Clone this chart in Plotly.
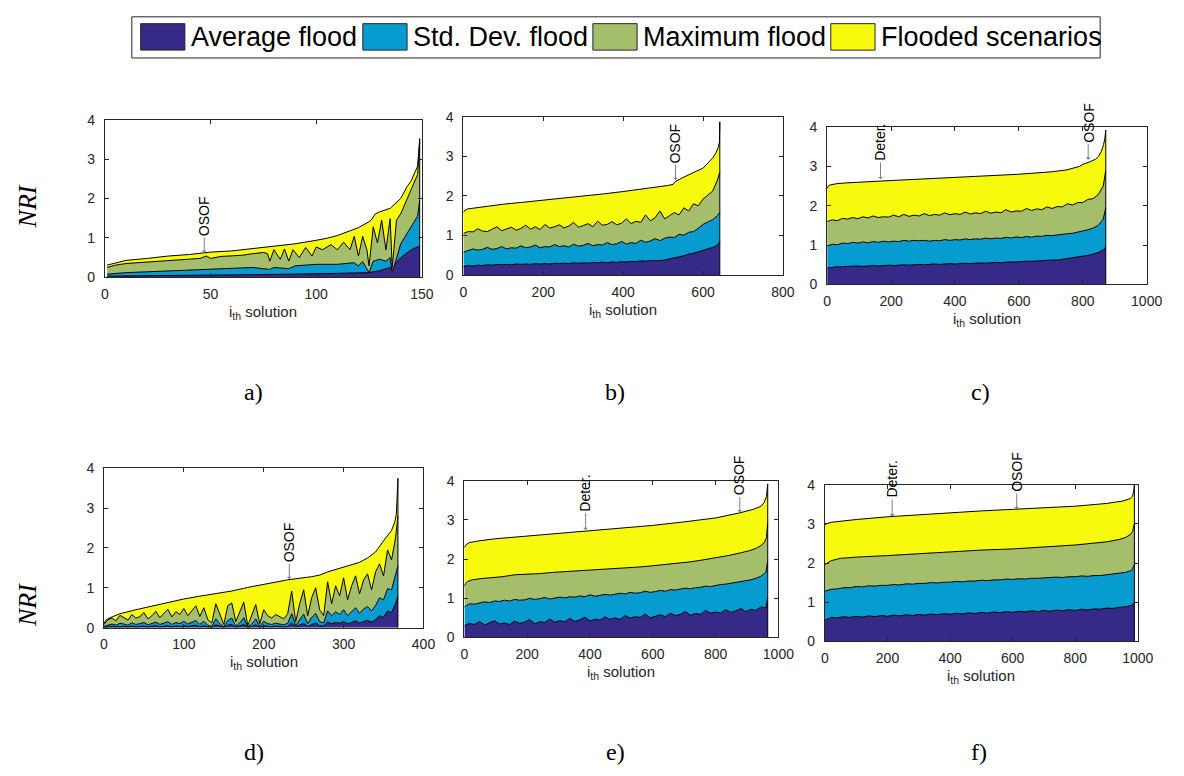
import plotly.graph_objects as go

W, H = 1184, 776
SANS = "Liberation Sans, Arial, Helvetica, sans-serif"
SERIF = "Liberation Serif, Times New Roman, serif"
AXC = "#262626"

SERIES_NAMES = ["Average flood", "Std. Dev. flood", "Maximum flood", "Flooded scenarios"]
SERIES_COLORS = ["#352A87", "#069CD0", "#A5BE6B", "#F8FA0E"]

# ---------------- panel a (solutions 1..149) ----------------
a_avg_x = [1, 30, 60, 90, 110, 120, 125, 130, 135, 137, 140, 143, 145, 147, 148, 149]
a_avg = [0.03, 0.04, 0.06, 0.08, 0.10, 0.12, 0.12, 0.17, 0.25, 0.32, 0.50, 0.62, 0.70, 0.75, 0.77, 0.79]
a_std_x = [1, 10, 20, 30, 40, 50, 60, 70, 78, 80, 87, 90, 100, 110, 118, 120, 122, 125, 127, 130,
           133, 135, 136, 137, 140, 143, 146, 148, 149]
a_std = [0.08, 0.12, 0.14, 0.16, 0.18, 0.21, 0.22, 0.25, 0.20, 0.25, 0.22, 0.29, 0.33, 0.33, 0.37, 0.29,
         0.40, 0.12, 0.41, 0.46, 0.41, 0.50, 0.15, 0.29, 0.85, 1.10, 1.35, 1.55, 1.95]
a_max_x = [1, 5, 10, 15, 20, 25, 30, 35, 40, 45, 48, 50, 55, 60, 65, 70, 75, 77, 78, 80, 83, 85, 87,
           89, 92, 95, 98, 100, 103, 107, 110, 113, 116, 118, 120, 122, 124, 125, 127, 129, 131, 133,
           135, 136, 138, 140, 142, 144, 146, 148, 149]
a_max = [0.25, 0.31, 0.35, 0.37, 0.39, 0.40, 0.43, 0.44, 0.46, 0.48, 0.54, 0.48, 0.53, 0.54, 0.56,
         0.60, 0.63, 0.60, 0.41, 0.70, 0.46, 0.72, 0.41, 0.70, 0.50, 0.76, 0.54, 0.77, 0.70, 0.83, 0.70,
         0.89, 0.70, 1.04, 0.54, 1.04, 0.70, 0.29, 1.28, 0.87, 1.45, 0.70, 1.49, 0.25, 1.45, 1.61, 1.86,
         2.11, 2.36, 2.61, 3.44]
a_flood_x = [1, 5, 10, 20, 30, 40, 50, 60, 70, 80, 90, 100, 105, 110, 115, 120, 125, 126, 128, 130,
             135, 140, 143, 145, 147, 148, 149]
a_flood = [0.31, 0.37, 0.43, 0.48, 0.54, 0.58, 0.64, 0.67, 0.73, 0.80, 0.85, 0.94, 0.99, 1.06, 1.16,
           1.26, 1.41, 1.45, 1.61, 1.66, 1.75, 2.00, 2.30, 2.45, 2.70, 2.82, 3.52]

# ---------------- panel b (solutions 0..642) ----------------
b_x = list(range(0, 637, 12)) + [642]
b_avg = [0.22, 0.24, 0.23, 0.25, 0.24, 0.26, 0.25, 0.27, 0.26, 0.27,
         0.26, 0.28, 0.27, 0.28, 0.27, 0.29, 0.28, 0.29, 0.28, 0.30,
         0.29, 0.30, 0.29, 0.31, 0.30, 0.31, 0.30, 0.32, 0.31, 0.33,
         0.31, 0.33, 0.32, 0.34, 0.33, 0.35, 0.34, 0.36, 0.35, 0.37,
         0.36, 0.37, 0.38, 0.41, 0.43, 0.46, 0.49, 0.53, 0.55, 0.59,
         0.62, 0.66, 0.70, 0.76, 0.85]
b_std = [0.58, 0.62, 0.66, 0.63, 0.65, 0.70, 0.65, 0.67, 0.72, 0.66,
         0.69, 0.68, 0.74, 0.69, 0.71, 0.76, 0.69, 0.72, 0.71, 0.77,
         0.72, 0.74, 0.71, 0.78, 0.73, 0.75, 0.80, 0.74, 0.77, 0.76,
         0.82, 0.77, 0.79, 0.85, 0.78, 0.82, 0.80, 0.88, 0.83, 0.86,
         0.92, 0.87, 0.93, 0.96, 0.95, 1.03, 1.01, 1.08, 1.10, 1.18,
         1.28, 1.34, 1.40, 1.50, 1.58]
b_max = [1.05, 1.10, 1.09, 1.17, 1.11, 1.10, 1.16, 1.22, 1.12, 1.17,
         1.21, 1.13, 1.18, 1.26, 1.16, 1.22, 1.15, 1.28, 1.19, 1.22,
         1.27, 1.19, 1.24, 1.33, 1.21, 1.25, 1.30, 1.22, 1.36, 1.26,
         1.28, 1.35, 1.27, 1.31, 1.42, 1.30, 1.36, 1.33, 1.52, 1.37,
         1.45, 1.62, 1.42, 1.50, 1.58, 1.52, 1.70, 1.62, 1.80, 1.75,
         1.92, 2.02, 2.12, 2.40, 2.60]
b_flood_x = [0, 3, 10, 30, 60, 100, 150, 200, 250, 300, 350, 400, 450, 480, 510, 525, 530, 545, 560,
             580, 600, 615, 625, 633, 638, 641, 642]
b_flood = [1.58, 1.63, 1.67, 1.70, 1.74, 1.79, 1.84, 1.89, 1.94, 1.99, 2.05, 2.11, 2.17, 2.21, 2.26,
           2.29, 2.36, 2.44, 2.52, 2.61, 2.70, 2.86, 2.97, 3.10, 3.22, 3.35, 3.87]

# ---------------- panel c (solutions 0..872) ----------------
c_x = list(range(0, 865, 16)) + [872]
c_avg = [0.42, 0.44, 0.45, 0.45, 0.46, 0.46, 0.47, 0.46, 0.47, 0.48,
         0.47, 0.48, 0.49, 0.48, 0.49, 0.50, 0.49, 0.50, 0.51, 0.50,
         0.51, 0.52, 0.51, 0.52, 0.53, 0.52, 0.53, 0.54, 0.53, 0.54,
         0.55, 0.54, 0.55, 0.56, 0.55, 0.57, 0.57, 0.58, 0.58, 0.59,
         0.59, 0.60, 0.60, 0.61, 0.62, 0.62, 0.64, 0.65, 0.67, 0.69,
         0.71, 0.74, 0.77, 0.81, 0.88, 0.95]
c_std = [0.98, 1.02, 1.01, 1.05, 1.04, 1.07, 1.05, 1.08, 1.06, 1.09,
         1.07, 1.10, 1.08, 1.10, 1.09, 1.12, 1.10, 1.12, 1.11, 1.12,
         1.10, 1.12, 1.11, 1.14, 1.12, 1.14, 1.13, 1.16, 1.14, 1.16,
         1.15, 1.18, 1.16, 1.18, 1.17, 1.20, 1.18, 1.21, 1.19, 1.22,
         1.20, 1.23, 1.22, 1.25, 1.24, 1.26, 1.27, 1.29, 1.30, 1.33,
         1.35, 1.39, 1.43, 1.50, 1.66, 1.95]
c_max = [1.60, 1.64, 1.62, 1.68, 1.66, 1.70, 1.67, 1.72, 1.69, 1.74,
         1.70, 1.72, 1.71, 1.76, 1.72, 1.78, 1.73, 1.76, 1.74, 1.80,
         1.75, 1.78, 1.76, 1.82, 1.77, 1.80, 1.78, 1.84, 1.79, 1.82,
         1.80, 1.86, 1.81, 1.84, 1.82, 1.90, 1.84, 1.87, 1.86, 1.93,
         1.88, 1.92, 1.90, 1.97, 1.93, 1.98, 1.97, 2.05, 2.02, 2.08,
         2.08, 2.16, 2.18, 2.28, 2.50, 2.90]
c_flood_x = [0, 3, 10, 30, 60, 100, 200, 300, 400, 500, 600, 700, 750, 790, 800, 820, 840, 850, 858,
             865, 869, 872]
c_flood = [2.44, 2.50, 2.53, 2.56, 2.58, 2.60, 2.64, 2.68, 2.72, 2.76, 2.80, 2.86, 2.91, 3.00, 3.05,
           3.11, 3.18, 3.26, 3.38, 3.55, 3.70, 3.92]

# ---------------- panel d (solutions 0..368) ----------------
d_x = list(range(0, 366, 5)) + [368]
d_avg = [0.01, 0.02, 0.03, 0.02, 0.03, 0.03, 0.02, 0.04, 0.02, 0.03,
         0.04, 0.02, 0.03, 0.05, 0.02, 0.04, 0.05, 0.02, 0.04, 0.03,
         0.05, 0.03, 0.04, 0.06, 0.02, 0.05, 0.02, 0.01, 0.07, 0.03,
         0.01, 0.06, 0.08, 0.01, 0.04, 0.08, 0.01, 0.03, 0.07, 0.01,
         0.05, 0.03, 0.02, 0.04, 0.03, 0.02, 0.03, 0.12, 0.02, 0.06,
         0.11, 0.03, 0.08, 0.12, 0.05, 0.04, 0.14, 0.10, 0.13, 0.11,
         0.15, 0.10, 0.13, 0.17, 0.12, 0.16, 0.18, 0.14, 0.20, 0.30,
         0.26, 0.42, 0.38, 0.60, 0.80]
d_std = [0.03, 0.07, 0.09, 0.06, 0.11, 0.09, 0.06, 0.12, 0.08, 0.10,
         0.13, 0.07, 0.10, 0.14, 0.08, 0.12, 0.15, 0.08, 0.13, 0.10,
         0.16, 0.09, 0.14, 0.18, 0.08, 0.16, 0.06, 0.03, 0.22, 0.10,
         0.02, 0.18, 0.24, 0.04, 0.12, 0.25, 0.02, 0.09, 0.22, 0.03,
         0.16, 0.10, 0.08, 0.11, 0.09, 0.07, 0.11, 0.35, 0.05, 0.20,
         0.34, 0.10, 0.26, 0.36, 0.15, 0.12, 0.42, 0.30, 0.40, 0.33,
         0.45, 0.30, 0.40, 0.50, 0.36, 0.47, 0.53, 0.42, 0.56, 0.75,
         0.70, 0.98, 0.95, 1.35, 1.55]
d_max = [0.08, 0.20, 0.24, 0.17, 0.31, 0.26, 0.19, 0.33, 0.24, 0.28,
         0.38, 0.22, 0.30, 0.41, 0.25, 0.36, 0.46, 0.27, 0.40, 0.33,
         0.48, 0.30, 0.42, 0.55, 0.28, 0.50, 0.20, 0.12, 0.60, 0.35,
         0.08, 0.55, 0.62, 0.15, 0.40, 0.64, 0.05, 0.30, 0.58, 0.10,
         0.45, 0.30, 0.24, 0.33, 0.27, 0.22, 0.35, 0.92, 0.15, 0.60,
         0.95, 0.30, 0.75, 1.00, 0.45, 0.30, 1.15, 0.60, 1.05, 0.80,
         1.25, 0.70, 1.05, 1.30, 0.85, 1.20, 1.35, 0.95, 1.40, 1.60,
         1.30, 1.95, 1.70, 2.25, 2.80]
d_flood_x = [0, 3, 10, 20, 40, 60, 80, 100, 120, 140, 160, 180, 200, 230, 260, 270, 280, 300, 320,
             330, 340, 350, 360, 364, 366, 368]
d_flood = [0.11, 0.20, 0.27, 0.35, 0.45, 0.54, 0.62, 0.72, 0.79, 0.85, 0.92, 1.01, 1.08, 1.20, 1.28,
           1.32, 1.40, 1.53, 1.64, 1.75, 1.90, 2.18, 2.44, 2.65, 2.85, 3.75]

# ---------------- panel e (solutions 0..966) ----------------
e_x = list(range(0, 961, 16)) + [966]
e_avg = [0.30, 0.36, 0.33, 0.41, 0.32, 0.38, 0.43, 0.34, 0.37, 0.33,
         0.42, 0.36, 0.39, 0.46, 0.35, 0.40, 0.38, 0.47, 0.39, 0.43,
         0.40, 0.49, 0.41, 0.45, 0.52, 0.42, 0.47, 0.44, 0.53, 0.46,
         0.50, 0.46, 0.56, 0.49, 0.53, 0.51, 0.60, 0.50, 0.55, 0.58,
         0.53, 0.62, 0.56, 0.59, 0.66, 0.57, 0.61, 0.59, 0.69, 0.62,
         0.65, 0.62, 0.71, 0.64, 0.68, 0.74, 0.66, 0.72, 0.69, 0.78,
         0.75, 1.00]
e_std = [0.78, 0.86, 0.85, 0.89, 0.91, 0.89, 0.93, 0.92, 0.95, 0.93,
         0.97, 0.95, 0.96, 1.00, 0.97, 0.99, 1.02, 0.98, 1.00, 1.03,
         1.01, 1.04, 1.03, 1.06, 1.04, 1.09, 1.05, 1.07, 1.10, 1.08,
         1.10, 1.13, 1.11, 1.15, 1.13, 1.14, 1.18, 1.15, 1.17, 1.20,
         1.18, 1.22, 1.21, 1.23, 1.26, 1.24, 1.27, 1.28, 1.31, 1.30,
         1.33, 1.35, 1.36, 1.38, 1.40, 1.42, 1.44, 1.47, 1.51, 1.56,
         1.66, 1.94]
e_max_x = [0, 3, 10, 25, 50, 80, 120, 160, 200, 240, 280, 320, 360, 400, 440, 480, 520, 560, 600,
           640, 680, 720, 760, 800, 840, 880, 910, 930, 945, 955, 962, 966]
e_max = [1.30, 1.38, 1.43, 1.47, 1.50, 1.52, 1.55, 1.60, 1.61, 1.63, 1.66, 1.68, 1.70, 1.71, 1.74,
         1.76, 1.78, 1.80, 1.83, 1.86, 1.89, 1.93, 1.98, 2.03, 2.09, 2.16, 2.22, 2.28, 2.35, 2.42,
         2.55, 2.94]
e_flood_x = [0, 4, 15, 50, 100, 200, 300, 400, 500, 600, 700, 800, 877, 920, 945, 955, 962, 966]
e_flood = [2.29, 2.36, 2.42, 2.47, 2.52, 2.59, 2.66, 2.73, 2.79, 2.86, 2.95, 3.05, 3.18, 3.27, 3.35,
           3.45, 3.60, 3.92]

# ---------------- panel f (solutions 0..989) ----------------
f_x = list(range(0, 981, 20)) + [989]
f_avg = [0.54, 0.61, 0.60, 0.63, 0.61, 0.64, 0.62, 0.65, 0.63, 0.66,
         0.64, 0.67, 0.65, 0.68, 0.66, 0.69, 0.67, 0.70, 0.68, 0.71,
         0.69, 0.72, 0.70, 0.73, 0.71, 0.74, 0.72, 0.75, 0.73, 0.76,
         0.74, 0.77, 0.75, 0.78, 0.76, 0.79, 0.77, 0.80, 0.78, 0.81,
         0.79, 0.82, 0.80, 0.83, 0.82, 0.85, 0.84, 0.87, 0.88, 0.92,
         1.00]
f_std = [1.28, 1.33, 1.34, 1.37, 1.37, 1.40, 1.39, 1.42, 1.41, 1.43,
         1.43, 1.45, 1.44, 1.47, 1.46, 1.48, 1.48, 1.50, 1.49, 1.51,
         1.51, 1.53, 1.52, 1.54, 1.54, 1.56, 1.55, 1.57, 1.57, 1.59,
         1.58, 1.60, 1.59, 1.61, 1.61, 1.62, 1.62, 1.64, 1.63, 1.65,
         1.65, 1.67, 1.66, 1.68, 1.68, 1.70, 1.71, 1.73, 1.76, 1.81,
         1.96]
f_max_x = [0, 5, 20, 50, 100, 200, 300, 400, 500, 600, 700, 800, 900, 940, 960, 975, 983, 989]
f_max = [1.96, 1.99, 2.06, 2.12, 2.15, 2.19, 2.24, 2.29, 2.33, 2.36, 2.41, 2.46, 2.54, 2.60, 2.65,
         2.72, 2.80, 3.00]
f_flood_x = [0, 5, 20, 60, 100, 200, 300, 400, 500, 600, 700, 800, 900, 950, 975, 983, 987, 989]
f_flood = [2.97, 3.00, 3.04, 3.08, 3.11, 3.18, 3.23, 3.29, 3.33, 3.37, 3.41, 3.45, 3.52, 3.58, 3.64,
           3.70, 3.85, 4.00]

# markers (label, solution index, NRI at arrow tip)
a_notes = [("OSOF", 47, 0.62)]
b_notes = [("OSOF", 531, 2.40)]
c_notes = [("Deter.", 167, 2.67), ("OSOF", 817, 3.17)]
d_notes = [("OSOF", 232, 1.22)]
e_notes = [("Deter.", 386, 2.74), ("OSOF", 877, 3.19)]
f_notes = [("Deter.", 215, 3.19), ("OSOF", 613, 3.375)]

panels = [
    dict(lab="a)", box=(102.7, 425.0, 114.0, 275.0), xr=[0, 150], xt=[0, 50, 100, 150], labxy=(254, 392),
         series=[(a_avg_x, a_avg), (a_std_x, a_std), (a_max_x, a_max), (a_flood_x, a_flood)], notes=a_notes),
    dict(lab="b)", box=(467.3, 792.3, 111.0, 272.7), xr=[0, 800], xt=[0, 200, 400, 600, 800], labxy=(622, 392),
         series=[(b_x, b_avg), (b_x, b_std), (b_x, b_max), (b_flood_x, b_flood)], notes=b_notes),
    dict(lab="c)", box=(837.3, 1162.3, 121.5, 282.3), xr=[0, 1000], xt=[0, 200, 400, 600, 800, 1000], labxy=(993, 392),
         series=[(c_x, c_avg), (c_x, c_std), (c_x, c_max), (c_flood_x, c_flood)], notes=c_notes),
    dict(lab="d)", box=(101.7, 426.7, 470.0, 632.7), xr=[0, 400], xt=[0, 100, 200, 300, 400], labxy=(254, 760),
         series=[(d_x, d_avg), (d_x, d_std), (d_x, d_max), (d_flood_x, d_flood)], notes=d_notes),
    dict(lab="e)", box=(468.3, 787.7, 482.7, 642.7), xr=[0, 1000], xt=[0, 200, 400, 600, 800, 1000], labxy=(622, 760),
         series=[(e_x, e_avg), (e_x, e_std), (e_max_x, e_max), (e_flood_x, e_flood)], notes=e_notes),
    dict(lab="f)", box=(835.0, 1153.3, 486.7, 646.7), xr=[0, 1000], xt=[0, 200, 400, 600, 800, 1000], labxy=(992, 760),
         series=[(f_x, f_avg), (f_x, f_std), (f_max_x, f_max), (f_flood_x, f_flood)], notes=f_notes),
]


def px(x):
    return x / W


def py(y):
    return 1 - y / H


fig = go.Figure()
annotations = []
shapes = []
layout = dict(width=W, height=H, margin=dict(l=0, r=0, t=0, b=0), paper_bgcolor="white",
              plot_bgcolor="white", showlegend=False)

for i, p in enumerate(panels):
    sfx = "" if i == 0 else str(i + 1)
    xa, ya = "x" + sfx, "y" + sfx
    l, r, t, b = p["box"]
    for j, (xs, ys) in enumerate(p["series"]):
        fig.add_trace(go.Scatter(
            x=xs, y=ys, mode="lines", name=SERIES_NAMES[j],
            line=dict(color="black", width=1),
            fill="tozeroy" if j == 0 else "tonexty",
            fillcolor=SERIES_COLORS[j], hoverinfo="skip",
            xaxis=xa, yaxis=ya, showlegend=False))
    fx, fy = p["series"][3]
    shapes.append(dict(type="line", xref=xa, yref=ya, x0=fx[-1], x1=fx[-1], y0=0, y1=fy[-1],
                       line=dict(color="black", width=1), layer="above"))
    common = dict(showline=True, linecolor=AXC, linewidth=1, mirror="ticks", ticks="inside",
                  ticklen=4, tickcolor=AXC, tickwidth=1, showgrid=False, zeroline=False,
                  tickfont=dict(family=SANS, size=14, color=AXC), fixedrange=True)
    layout["xaxis" + sfx] = dict(domain=[px(l), px(r)], range=p["xr"], tickvals=p["xt"],
                                 anchor=ya, ticklabelstandoff=4, **common)
    layout["yaxis" + sfx] = dict(domain=[py(b), py(t)], range=[0, 4], tickvals=[0, 1, 2, 3, 4],
                                 anchor=xa, ticklabelstandoff=6, **common)
    # x-axis title
    annotations.append(dict(xref="paper", yref="paper", x=px((l + r) / 2), y=py(b + 24),
                            xanchor="center", yanchor="top", showarrow=False,
                            text="i<sub>th</sub> solution",
                            font=dict(family=SANS, size=15, color=AXC)))
    # panel letter
    annotations.append(dict(xref="paper", yref="paper", x=px(p["labxy"][0]), y=py(p["labxy"][1]),
                            xanchor="center", yanchor="middle", showarrow=False, text=p["lab"],
                            font=dict(family=SERIF, size=24, color="black")))
    for (txt, nx, ny) in p["notes"]:
        annotations.append(dict(xref=xa, yref=ya, x=nx, y=ny, text=txt, textangle=-90,
                                showarrow=True, arrowhead=1, arrowsize=0.8, arrowwidth=1,
                                arrowcolor="#808080", ax=0, ay=-37,
                                font=dict(family=SANS, size=14, color="black")))

# NRI labels
for yc in (203, 610):
    annotations.append(dict(xref="paper", yref="paper", x=px(24), y=py(yc), text="<i>NRI</i>",
                            textangle=-90, showarrow=False, xanchor="center", yanchor="middle",
                            font=dict(family=SERIF, size=26, color="black")))

# custom legend
shapes.append(dict(type="rect", xref="paper", yref="paper", x0=px(130), x1=px(1115), y0=py(51), y1=py(9),
                   line=dict(color=AXC, width=1), fillcolor="white", layer="above"))
leg_sw = [139, 365, 599, 841]
for k in range(4):
    x0 = leg_sw[k]
    shapes.append(dict(type="rect", xref="paper", yref="paper", x0=px(x0), x1=px(x0 + 45),
                       y0=py(43), y1=py(16), line=dict(color=AXC, width=1),
                       fillcolor=SERIES_COLORS[k], layer="above"))
    annotations.append(dict(xref="paper", yref="paper", x=px(x0 + 49), y=py(30), xanchor="left",
                            yanchor="middle", showarrow=False, text=SERIES_NAMES[k],
                            font=dict(family=SANS, size=27, color="black")))

layout["annotations"] = annotations
layout["shapes"] = shapes
fig.update_layout(**layout)
fig.write_html("out.html")
